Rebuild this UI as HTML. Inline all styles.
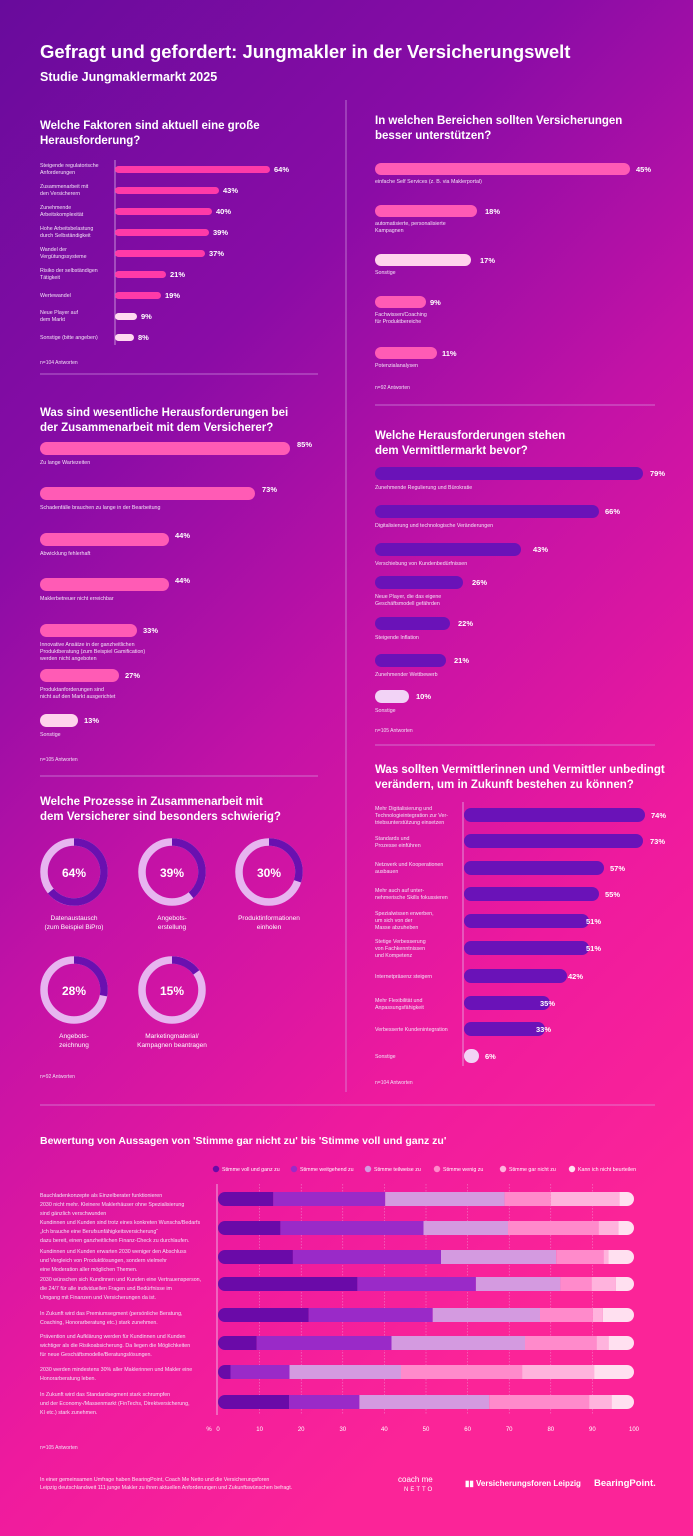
<!DOCTYPE html>
<html><head><meta charset="utf-8"><style>
html,body{margin:0;padding:0;width:693px;height:1536px;overflow:hidden}
svg{display:block}
text{font-family:"Liberation Sans",sans-serif;fill:#fff}
.t{font-weight:bold;font-size:11.5px}
.l{font-size:5.3px;fill:#f3e4f7}
.p{font-weight:bold;font-size:7.5px}
.n{font-size:5px;fill:#f0dff5}
</style></head><body>
<svg width="693" height="1536" viewBox="0 0 693 1536" xmlns="http://www.w3.org/2000/svg">
<defs>
<linearGradient id="bg" x1="0" y1="0" x2="0.45" y2="1">
<stop offset="0" stop-color="#680b9c"/>
<stop offset="0.3" stop-color="#8a0ca6"/>
<stop offset="0.55" stop-color="#c412a6"/>
<stop offset="0.8" stop-color="#ee1a9e"/>
<stop offset="1" stop-color="#fb2498"/>
</linearGradient>
</defs>
<rect width="693" height="1536" fill="url(#bg)"/>
<text x="40" y="58" style="font-weight:bold;font-size:18.5px">Gefragt und gefordert: Jungmakler in der Versicherungswelt</text>
<text x="40" y="81" style="font-weight:bold;font-size:12.5px">Studie Jungmaklermarkt 2025</text>

<g stroke="#d9a8e8" stroke-width="0.8" opacity="0.8">
<line x1="346" y1="100" x2="346" y2="1092"/>
<line x1="40" y1="374" x2="318" y2="374"/>
<line x1="40" y1="776" x2="318" y2="776"/>
<line x1="375" y1="405" x2="655" y2="405"/>
<line x1="375" y1="745" x2="655" y2="745"/>
<line x1="40" y1="1105" x2="655" y2="1105"/>
</g>

<!-- Section 1 -->
<text x="40" y="129" class="t">Welche Faktoren sind aktuell eine große</text>
<text x="40" y="144" class="t">Herausforderung?</text>
<line x1="115" y1="160" x2="115" y2="345" stroke="#e8c8f0" stroke-width="0.7"/>
<g fill="#ff3aa8">
<rect x="115" y="166" width="155" height="7" rx="3.5"/>
<rect x="115" y="187" width="104" height="7" rx="3.5"/>
<rect x="115" y="208" width="97" height="7" rx="3.5"/>
<rect x="115" y="229" width="94" height="7" rx="3.5"/>
<rect x="115" y="250" width="90" height="7" rx="3.5"/>
<rect x="115" y="271" width="51" height="7" rx="3.5"/>
<rect x="115" y="292" width="46" height="7" rx="3.5"/>
</g>
<g fill="#ffd9f0">
<rect x="115" y="313" width="22" height="7" rx="3.5"/>
<rect x="115" y="334" width="19" height="7" rx="3.5"/>
</g>
<g class="p">
<text x="274" y="172" class="p">64%</text><text x="223" y="193" class="p">43%</text>
<text x="216" y="214" class="p">40%</text><text x="213" y="235" class="p">39%</text>
<text x="209" y="256" class="p">37%</text><text x="170" y="277" class="p">21%</text>
<text x="165" y="298" class="p">19%</text><text x="141" y="319" class="p">9%</text>
<text x="138" y="340" class="p">8%</text>
</g>
<text x="40" y="167" class="l">Steigende regulatorische</text><text x="40" y="174" class="l">Anforderungen</text>
<text x="40" y="188" class="l">Zusammenarbeit mit</text><text x="40" y="195" class="l">den Versicherern</text>
<text x="40" y="209" class="l">Zunehmende</text><text x="40" y="216" class="l">Arbeitskomplexität</text>
<text x="40" y="230" class="l">Hohe Arbeitsbelastung</text><text x="40" y="237" class="l">durch Selbständigkeit</text>
<text x="40" y="251" class="l">Wandel der</text><text x="40" y="258" class="l">Vergütungssysteme</text>
<text x="40" y="272" class="l">Risiko der selbständigen</text><text x="40" y="279" class="l">Tätigkeit</text>
<text x="40" y="297" class="l">Wertewandel</text>
<text x="40" y="314" class="l">Neue Player auf</text><text x="40" y="321" class="l">dem Markt</text>
<text x="40" y="339" class="l">Sonstige (bitte angeben)</text>
<text x="40" y="364" class="n">n=104 Antworten</text>

<!-- Section 2 -->
<text x="375" y="124" class="t">In welchen Bereichen sollten Versicherungen</text>
<text x="375" y="139" class="t">besser unterstützen?</text>
<rect x="375" y="163" width="255" height="12" rx="6" fill="#ff5bb5"/>
<rect x="375" y="205" width="102" height="12" rx="6" fill="#ff5bb5"/>
<rect x="375" y="254" width="96" height="12" rx="6" fill="#ffd3ec"/>
<rect x="375" y="296" width="51" height="12" rx="6" fill="#ff5bb5"/>
<rect x="375" y="347" width="62" height="12" rx="6" fill="#ff5bb5"/>
<text x="636" y="172" class="p">45%</text><text x="485" y="214" class="p">18%</text>
<text x="480" y="263" class="p">17%</text><text x="430" y="305" class="p">9%</text>
<text x="442" y="356" class="p">11%</text>
<text x="375" y="183" class="l">einfache Self Services (z. B. via Maklerportal)</text>
<text x="375" y="225" class="l">automatisierte, personalisierte</text><text x="375" y="232" class="l">Kampagnen</text>
<text x="375" y="274" class="l">Sonstige</text>
<text x="375" y="316" class="l">Fachwissen/Coaching</text><text x="375" y="323" class="l">für Produktbereiche</text>
<text x="375" y="367" class="l">Potenzialanalysen</text>
<text x="375" y="389" class="n">n=92 Antworten</text>

<!-- Section 3 -->
<text x="40" y="416" class="t">Was sind wesentliche Herausforderungen bei</text>
<text x="40" y="431" class="t">der Zusammenarbeit mit dem Versicherer?</text>
<g fill="#ff5bb5">
<rect x="40" y="442" width="250" height="13" rx="6.5"/>
<rect x="40" y="487" width="215" height="13" rx="6.5"/>
<rect x="40" y="533" width="129" height="13" rx="6.5"/>
<rect x="40" y="578" width="129" height="13" rx="6.5"/>
<rect x="40" y="624" width="97" height="13" rx="6.5"/>
<rect x="40" y="669" width="79" height="13" rx="6.5"/>
</g>
<rect x="40" y="714" width="38" height="13" rx="6.5" fill="#ffd3ec"/>
<text x="297" y="447" class="p">85%</text><text x="262" y="492" class="p">73%</text>
<text x="175" y="538" class="p">44%</text><text x="175" y="583" class="p">44%</text>
<text x="143" y="633" class="p">33%</text><text x="125" y="678" class="p">27%</text>
<text x="84" y="723" class="p">13%</text>
<text x="40" y="464" class="l">Zu lange Wartezeiten</text>
<text x="40" y="509" class="l">Schadenfälle brauchen zu lange in der Bearbeitung</text>
<text x="40" y="555" class="l">Abwicklung fehlerhaft</text>
<text x="40" y="600" class="l">Maklerbetreuer nicht erreichbar</text>
<text x="40" y="646" class="l">Innovative Ansätze in der ganzheitlichen</text><text x="40" y="653" class="l">Produktberatung (zum Beispiel Gamification)</text><text x="40" y="660" class="l">werden nicht angeboten</text>
<text x="40" y="691" class="l">Produktanforderungen sind</text><text x="40" y="698" class="l">nicht auf den Markt ausgerichtet</text>
<text x="40" y="736" class="l">Sonstige</text>
<text x="40" y="761" class="n">n=105 Antworten</text>

<!-- Section 4 -->
<text x="375" y="439" class="t">Welche Herausforderungen stehen</text>
<text x="375" y="454" class="t">dem Vermittlermarkt bevor?</text>
<g fill="#6a12b8">
<rect x="375" y="467" width="268" height="13" rx="6.5"/>
<rect x="375" y="505" width="224" height="13" rx="6.5"/>
<rect x="375" y="543" width="146" height="13" rx="6.5"/>
<rect x="375" y="576" width="88" height="13" rx="6.5"/>
<rect x="375" y="617" width="75" height="13" rx="6.5"/>
<rect x="375" y="654" width="71" height="13" rx="6.5"/>
</g>
<rect x="375" y="690" width="34" height="13" rx="6.5" fill="#f2d3f6"/>
<text x="650" y="476" class="p">79%</text><text x="605" y="514" class="p">66%</text>
<text x="533" y="552" class="p">43%</text><text x="472" y="585" class="p">26%</text>
<text x="458" y="626" class="p">22%</text><text x="454" y="663" class="p">21%</text>
<text x="416" y="699" class="p">10%</text>
<text x="375" y="489" class="l">Zunehmende Regulierung und Bürokratie</text>
<text x="375" y="527" class="l">Digitalisierung und technologische Veränderungen</text>
<text x="375" y="565" class="l">Verschiebung von Kundenbedürfnissen</text>
<text x="375" y="598" class="l">Neue Player, die das eigene</text><text x="375" y="605" class="l">Geschäftsmodell gefährden</text>
<text x="375" y="639" class="l">Steigende Inflation</text>
<text x="375" y="676" class="l">Zunehmender Wettbewerb</text>
<text x="375" y="712" class="l">Sonstige</text>
<text x="375" y="732" class="n">n=105 Antworten</text>

<!-- Section 5 donuts -->
<text x="40" y="805" class="t">Welche Prozesse in Zusammenarbeit mit</text>
<text x="40" y="820" class="t">dem Versicherer sind besonders schwierig?</text>
<g fill="none" stroke-width="7.5">
<circle cx="74" cy="872" r="30" stroke="#e7b5f0"/>
<circle cx="74" cy="872" r="30" stroke="#6a10b0" stroke-dasharray="120.6 188.5" transform="rotate(-90 74 872)"/>
<circle cx="172" cy="872" r="30" stroke="#e7b5f0"/>
<circle cx="172" cy="872" r="30" stroke="#6a10b0" stroke-dasharray="73.5 188.5" transform="rotate(-90 172 872)"/>
<circle cx="269" cy="872" r="30" stroke="#e7b5f0"/>
<circle cx="269" cy="872" r="30" stroke="#6a10b0" stroke-dasharray="56.5 188.5" transform="rotate(-90 269 872)"/>
<circle cx="74" cy="990" r="30" stroke="#e7b5f0"/>
<circle cx="74" cy="990" r="30" stroke="#6a10b0" stroke-dasharray="52.8 188.5" transform="rotate(-90 74 990)"/>
<circle cx="172" cy="990" r="30" stroke="#e7b5f0"/>
<circle cx="172" cy="990" r="30" stroke="#6a10b0" stroke-dasharray="28.3 188.5" transform="rotate(-90 172 990)"/>
</g>
<g style="font-weight:bold;font-size:12px" text-anchor="middle">
<text x="74" y="877">64%</text><text x="172" y="877">39%</text><text x="269" y="877">30%</text>
<text x="74" y="995">28%</text><text x="172" y="995">15%</text>
</g>
<g text-anchor="middle" style="font-size:6.5px">
<text x="74" y="920">Datenaustausch</text><text x="74" y="929">(zum Beispiel BiPro)</text>
<text x="172" y="920">Angebots-</text><text x="172" y="929">erstellung</text>
<text x="269" y="920">Produktinformationen</text><text x="269" y="929">einholen</text>
<text x="74" y="1038">Angebots-</text><text x="74" y="1047">zeichnung</text>
<text x="172" y="1038">Marketingmaterial/</text><text x="172" y="1047">Kampagnen beantragen</text>
</g>
<text x="40" y="1078" class="n">n=92 Antworten</text>

<!-- Section 6 -->
<text x="375" y="773" class="t">Was sollten Vermittlerinnen und Vermittler unbedingt</text>
<text x="375" y="788" class="t">verändern, um in Zukunft bestehen zu können?</text>
<line x1="463" y1="802" x2="463" y2="1066" stroke="#e8c8f0" stroke-width="0.7"/>
<g fill="#6a12b8">
<rect x="464" y="808" width="181" height="14" rx="7"/>
<rect x="464" y="834" width="179" height="14" rx="7"/>
<rect x="464" y="861" width="140" height="14" rx="7"/>
<rect x="464" y="887" width="135" height="14" rx="7"/>
<rect x="464" y="914" width="125" height="14" rx="7"/>
<rect x="464" y="941" width="125" height="14" rx="7"/>
<rect x="464" y="969" width="103" height="14" rx="7"/>
<rect x="464" y="996" width="86" height="14" rx="7"/>
<rect x="464" y="1022" width="81" height="14" rx="7"/>
</g>
<rect x="464" y="1049" width="15" height="14" rx="7" fill="#f2d3f6"/>
<text x="651" y="818" class="p">74%</text><text x="650" y="844" class="p">73%</text>
<text x="610" y="871" class="p">57%</text><text x="605" y="897" class="p">55%</text>
<text x="586" y="924" class="p">51%</text><text x="586" y="951" class="p">51%</text>
<text x="568" y="979" class="p">42%</text><text x="540" y="1006" class="p">35%</text>
<text x="536" y="1032" class="p">33%</text><text x="485" y="1059" class="p">6%</text>
<text x="375" y="810" class="l">Mehr Digitalisierung und</text><text x="375" y="817" class="l">Technologieintegration zur Ver-</text><text x="375" y="824" class="l">triebsunterstützung einsetzen</text>
<text x="375" y="840" class="l">Standards und</text><text x="375" y="847" class="l">Prozesse einführen</text>
<text x="375" y="866" class="l">Netzwerk und Kooperationen</text><text x="375" y="873" class="l">ausbauen</text>
<text x="375" y="892" class="l">Mehr auch auf unter-</text><text x="375" y="899" class="l">nehmerische Skills fokussieren</text>
<text x="375" y="915" class="l">Spezialwissen erwerben,</text><text x="375" y="922" class="l">um sich von der</text><text x="375" y="929" class="l">Masse abzuheben</text>
<text x="375" y="943" class="l">Stetige Verbesserung</text><text x="375" y="950" class="l">von Fachkenntnissen</text><text x="375" y="957" class="l">und Kompetenz</text>
<text x="375" y="978" class="l">Internetpräsenz steigern</text>
<text x="375" y="1002" class="l">Mehr Flexibilität und</text><text x="375" y="1009" class="l">Anpassungsfähigkeit</text>
<text x="375" y="1031" class="l">Verbesserte Kundenintegration</text>
<text x="375" y="1058" class="l">Sonstige</text>
<text x="375" y="1084" class="n">n=104 Antworten</text>

<!-- Section 7 -->
<text x="40" y="1144" style="font-weight:bold;font-size:10.5px">Bewertung von Aussagen von 'Stimme gar nicht zu' bis 'Stimme voll und ganz zu'</text>
<g style="font-size:5.3px">
<circle cx="216" cy="1169" r="3.2" fill="#6a0aa8"/><text x="222" y="1171">Stimme voll und ganz zu</text>
<circle cx="294" cy="1169" r="3.2" fill="#9a2ac8"/><text x="300" y="1171">Stimme weitgehend zu</text>
<circle cx="368" cy="1169" r="3.2" fill="#d49ae0"/><text x="374" y="1171">Stimme teilweise zu</text>
<circle cx="437" cy="1169" r="3.2" fill="#ff8acb"/><text x="443" y="1171">Stimme wenig zu</text>
<circle cx="503" cy="1169" r="3.2" fill="#ffb3dd"/><text x="509" y="1171">Stimme gar nicht zu</text>
<circle cx="572" cy="1169" r="3.2" fill="#ffe0f0"/><text x="578" y="1171">Kann ich nicht beurteilen</text>
</g>
<g stroke="#f0b0e0" stroke-width="0.5" stroke-dasharray="1.5 1.5" opacity="0.8">
<line x1="259.6" y1="1184" x2="259.6" y2="1415"/><line x1="301.2" y1="1184" x2="301.2" y2="1415"/>
<line x1="342.8" y1="1184" x2="342.8" y2="1415"/><line x1="384.4" y1="1184" x2="384.4" y2="1415"/>
<line x1="426" y1="1184" x2="426" y2="1415"/><line x1="467.6" y1="1184" x2="467.6" y2="1415"/>
<line x1="509.2" y1="1184" x2="509.2" y2="1415"/><line x1="550.8" y1="1184" x2="550.8" y2="1415"/>
<line x1="592.4" y1="1184" x2="592.4" y2="1415"/>
</g>
<line x1="217" y1="1184" x2="217" y2="1415" stroke="#f0d0f0" stroke-width="0.8"/>
<g id="rows"></g>
<g style="font-size:6px;fill:#f3e4f7" text-anchor="middle">
<text x="209" y="1431">%</text>
<text x="218" y="1431">0</text><text x="259.6" y="1431">10</text><text x="301.2" y="1431">20</text>
<text x="342.8" y="1431">30</text><text x="384.4" y="1431">40</text><text x="426" y="1431">50</text>
<text x="467.6" y="1431">60</text><text x="509.2" y="1431">70</text><text x="550.8" y="1431">80</text>
<text x="592.4" y="1431">90</text><text x="634" y="1431">100</text>
</g>
<g class="l">
<text x="40" y="1197" class="l">Bauchladenkonzepte als Einzelberater funktionieren</text><text x="40" y="1206" class="l">2030 nicht mehr. Kleinere Maklerhäuser ohne Spezialisierung</text><text x="40" y="1215" class="l">sind gänzlich verschwunden</text>
<text x="40" y="1224" class="l">Kundinnen und Kunden sind trotz eines konkreten Wunschs/Bedarfs</text><text x="40" y="1233" class="l">„Ich brauche eine Berufsunfähigkeitsversicherung“</text><text x="40" y="1242" class="l">dazu bereit, einen ganzheitlichen Finanz-Check zu durchlaufen.</text>
<text x="40" y="1253" class="l">Kundinnen und Kunden erwarten 2030 weniger den Abschluss</text><text x="40" y="1262" class="l">und Vergleich von Produktlösungen, sondern vielmehr</text><text x="40" y="1271" class="l">eine Moderation aller möglichen Themen.</text>
<text x="40" y="1281" class="l">2030 wünschen sich Kundinnen und Kunden eine Vertrauensperson,</text><text x="40" y="1290" class="l">die 24/7 für alle individuellen Fragen und Bedürfnisse im</text><text x="40" y="1299" class="l">Umgang mit Finanzen und Versicherungen da ist.</text>
<text x="40" y="1315" class="l">In Zukunft wird das Premiumsegment (persönliche Beratung,</text><text x="40" y="1324" class="l">Coaching, Honorarberatung etc.) stark zunehmen.</text>
<text x="40" y="1338" class="l">Prävention und Aufklärung werden für Kundinnen und Kunden</text><text x="40" y="1347" class="l">wichtiger als die Risikoabsicherung. Da liegen die Möglichkeiten</text><text x="40" y="1356" class="l">für neue Geschäftsmodelle/Beratungslösungen.</text>
<text x="40" y="1371" class="l">2030 werden mindestens 30% aller Maklerinnen und Makler eine</text><text x="40" y="1380" class="l">Honorarberatung leben.</text>
<text x="40" y="1396" class="l">In Zukunft wird das Standardsegment stark schrumpfen</text><text x="40" y="1405" class="l">und der Economy-/Massenmarkt (FinTechs, Direktversicherung,</text><text x="40" y="1414" class="l">KI etc.) stark zunehmen.</text>
</g>
<text x="40" y="1449" class="n">n=105 Antworten</text>

<!-- stacked rows -->
<g>
<!-- row template: y, cumulative -->
<clipPath id="c1"><rect x="218" y="1192" width="416" height="14" rx="7"/></clipPath>
<clipPath id="c2"><rect x="218" y="1221" width="416" height="14" rx="7"/></clipPath>
<clipPath id="c3"><rect x="218" y="1250" width="416" height="14" rx="7"/></clipPath>
<clipPath id="c4"><rect x="218" y="1277" width="416" height="14" rx="7"/></clipPath>
<clipPath id="c5"><rect x="218" y="1308" width="416" height="14" rx="7"/></clipPath>
<clipPath id="c6"><rect x="218" y="1336" width="416" height="14" rx="7"/></clipPath>
<clipPath id="c7"><rect x="218" y="1365" width="416" height="14" rx="7"/></clipPath>
<clipPath id="c8"><rect x="218" y="1395" width="416" height="14" rx="7"/></clipPath>
</g>
<g clip-path="url(#c1)">
<rect x="218" y="1192" width="55.3" height="14" fill="#6a0aa8"/><rect x="273.3" y="1192" width="111.9" height="14" fill="#9a2ac8"/><rect x="385.2" y="1192" width="119.4" height="14" fill="#d49ae0"/><rect x="504.6" y="1192" width="46.2" height="14" fill="#ff8acb"/><rect x="550.8" y="1192" width="68.6" height="14" fill="#ffb3dd"/><rect x="619.4" y="1192" width="14.6" height="14" fill="#ffe0f0"/>
</g>
<g clip-path="url(#c2)">
<rect x="218" y="1221" width="62.4" height="14" fill="#6a0aa8"/><rect x="280.4" y="1221" width="143.1" height="14" fill="#9a2ac8"/><rect x="423.5" y="1221" width="84.5" height="14" fill="#d49ae0"/><rect x="508" y="1221" width="90.6" height="14" fill="#ff8acb"/><rect x="598.6" y="1221" width="19.6" height="14" fill="#ffb3dd"/><rect x="618.2" y="1221" width="15.8" height="14" fill="#ffe0f0"/>
</g>
<g clip-path="url(#c3)">
<rect x="218" y="1250" width="74.9" height="14" fill="#6a0aa8"/><rect x="292.9" y="1250" width="148.1" height="14" fill="#9a2ac8"/><rect x="441" y="1250" width="115.2" height="14" fill="#d49ae0"/><rect x="556.2" y="1250" width="47.4" height="14" fill="#ff8acb"/><rect x="603.6" y="1250" width="4.6" height="14" fill="#ffb3dd"/><rect x="608.2" y="1250" width="25.8" height="14" fill="#ffe0f0"/>
</g>
<g clip-path="url(#c4)">
<rect x="218" y="1277" width="139.4" height="14" fill="#6a0aa8"/><rect x="357.4" y="1277" width="118.5" height="14" fill="#9a2ac8"/><rect x="475.9" y="1277" width="84.5" height="14" fill="#d49ae0"/><rect x="560.4" y="1277" width="31.2" height="14" fill="#ff8acb"/><rect x="591.6" y="1277" width="24.1" height="14" fill="#ffb3dd"/><rect x="615.7" y="1277" width="18.3" height="14" fill="#ffe0f0"/>
</g>
<g clip-path="url(#c5)">
<rect x="218" y="1308" width="90.7" height="14" fill="#6a0aa8"/><rect x="308.7" y="1308" width="124" height="14" fill="#9a2ac8"/><rect x="432.7" y="1308" width="107.3" height="14" fill="#d49ae0"/><rect x="540" y="1308" width="52.8" height="14" fill="#ff8acb"/><rect x="592.8" y="1308" width="10" height="14" fill="#ffb3dd"/><rect x="602.8" y="1308" width="31.2" height="14" fill="#ffe0f0"/>
</g>
<g clip-path="url(#c6)">
<rect x="218" y="1336" width="38.7" height="14" fill="#6a0aa8"/><rect x="256.7" y="1336" width="134.8" height="14" fill="#9a2ac8"/><rect x="391.5" y="1336" width="133.5" height="14" fill="#d49ae0"/><rect x="525" y="1336" width="71.6" height="14" fill="#ff8acb"/><rect x="596.6" y="1336" width="12" height="14" fill="#ffb3dd"/><rect x="608.6" y="1336" width="25.4" height="14" fill="#ffe0f0"/>
</g>
<g clip-path="url(#c7)">
<rect x="218" y="1365" width="12.5" height="14" fill="#6a0aa8"/><rect x="230.5" y="1365" width="59" height="14" fill="#9a2ac8"/><rect x="289.5" y="1365" width="111.5" height="14" fill="#d49ae0"/><rect x="401" y="1365" width="121.1" height="14" fill="#ff8acb"/><rect x="522.1" y="1365" width="72" height="14" fill="#ffb3dd"/><rect x="594.1" y="1365" width="39.9" height="14" fill="#ffe0f0"/>
</g>
<g clip-path="url(#c8)">
<rect x="218" y="1395" width="71.1" height="14" fill="#6a0aa8"/><rect x="289.1" y="1395" width="70.3" height="14" fill="#9a2ac8"/><rect x="359.4" y="1395" width="129.8" height="14" fill="#d49ae0"/><rect x="489.2" y="1395" width="99.9" height="14" fill="#ff8acb"/><rect x="589.1" y="1395" width="22.5" height="14" fill="#ffb3dd"/><rect x="611.6" y="1395" width="22.4" height="14" fill="#ffe0f0"/>
</g>

<!-- footer -->
<text x="40" y="1481" style="font-size:5.3px;fill:#fbe6f3">In einer gemeinsamen Umfrage haben BearingPoint, Coach Me Netto und die Versicherungsforen</text>
<text x="40" y="1489" style="font-size:5.3px;fill:#fbe6f3">Leipzig deutschlandweit 111 junge Makler zu ihren aktuellen Anforderungen und Zukunftswünschen befragt.</text>
<text x="398" y="1482" style="font-size:8px">coach me</text>
<text x="404" y="1491" style="font-size:6px;letter-spacing:2px">NETTO</text>
<text x="465" y="1486" style="font-size:8px;font-weight:bold">▮▮ Versicherungsforen Leipzig</text>
<text x="594" y="1486" style="font-size:9.5px;font-weight:bold">BearingPoint.</text>
</svg>
</body></html>
